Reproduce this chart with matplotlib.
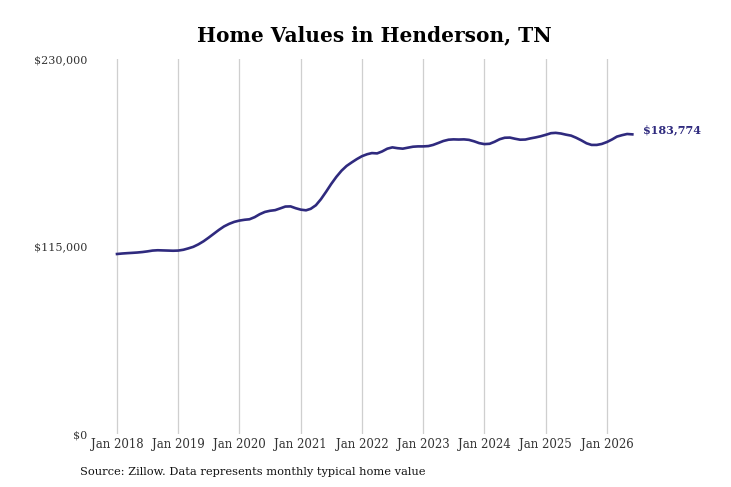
import numpy as np
import pandas as pd
import matplotlib
matplotlib.use("Agg")
import matplotlib.pyplot as plt
import matplotlib.dates as mdates

# Monthly typical home value, Jan 2018 - Jun 2026
values_2018 = [110400, 110700, 110900, 111100, 111300, 111600, 112000, 112500, 112700, 112600, 112500, 112400]
values_2019 = [112500, 113000, 113800, 114800, 116300, 118200, 120400, 122800, 125200, 127300, 128900, 130100]
values_2020 = [130900, 131400, 131700, 133000, 134800, 136200, 136900, 137300, 138400, 139500, 139600, 138500]
values_2021 = [137600, 137200, 138100, 140300, 144000, 148600, 153300, 157700, 161500, 164400, 166600, 168600]
values_2022 = [170400, 171600, 172300, 172100, 173300, 175000, 175800, 175300, 175000, 175600, 176200, 176400]
values_2023 = [176400, 176600, 177300, 178500, 179700, 180500, 180700, 180600, 180700, 180400, 179500, 178400]
values_2024 = [177800, 178000, 179200, 180800, 181700, 181800, 181100, 180500, 180600, 181300, 181900, 182600]
values_2025 = [183500, 184500, 184700, 184300, 183600, 183000, 181700, 180100, 178300, 177300, 177300, 177900]
values_2026 = [179100, 180700, 182400, 183300, 184000, 183774]

values = (values_2018 + values_2019 + values_2020 + values_2021 + values_2022
          + values_2023 + values_2024 + values_2025 + values_2026)
dates = pd.date_range("2018-01-01", periods=len(values), freq="MS")

tick_years = list(range(2018, 2027))
y_ticks = [0, 115000, 230000]
y_labels = ["$0", "$115,000", "$230,000"]

line_color = "#2f2a7e"
plt.rcParams["font.family"] = ["DejaVu Serif"]

fig = plt.figure(figsize=(7.31, 4.87), dpi=100)
ax = fig.add_axes([95 / 731, 53 / 487, 545 / 731, 375 / 487])

ax.plot(dates, values, color=line_color, linewidth=1.9)

# x range: Jan 2018 sits at px 117, Jan 2026 at px 607
t0 = mdates.date2num(pd.Timestamp("2018-01-01"))
t1 = mdates.date2num(pd.Timestamp("2026-01-01"))
per_px = (t1 - t0) / 490
ax.set_xlim(t0 - 22 * per_px, t1 + 33 * per_px)
ax.set_ylim(0, 230000)

ax.set_xticks([pd.Timestamp(f"{y}-01-01") for y in tick_years])
ax.set_xticklabels([f"Jan {y}" for y in tick_years])
ax.set_yticks(y_ticks)
ax.set_yticklabels(y_labels)
ax.tick_params(axis="both", length=0, labelcolor="#333333")
ax.tick_params(axis="x", pad=3, labelsize=8.5)
ax.tick_params(axis="y", pad=5.5, labelsize=8)

ax.grid(axis="x", color="#cfcfcf", linewidth=0.9)
ax.grid(axis="y", visible=False)
for s in ax.spines.values():
    s.set_visible(False)

ax.annotate(f"${values[-1]:,}", xy=(dates[-1], values[-1]), xytext=(8, 3),
            textcoords="offset points", color=line_color, fontsize=8,
            fontweight="bold", va="center", ha="left", annotation_clip=False)

fig.text(374 / 731, 0.927, "Home Values in Henderson, TN", ha="center", va="center",
         fontsize=14.5, fontweight="bold", color="black")
fig.text(80 / 731, 1 - 472 / 487, "Source: Zillow. Data represents monthly typical home value",
         ha="left", va="center", fontsize=8.2, color="#111111")

fig.savefig("out.png", dpi=100)
